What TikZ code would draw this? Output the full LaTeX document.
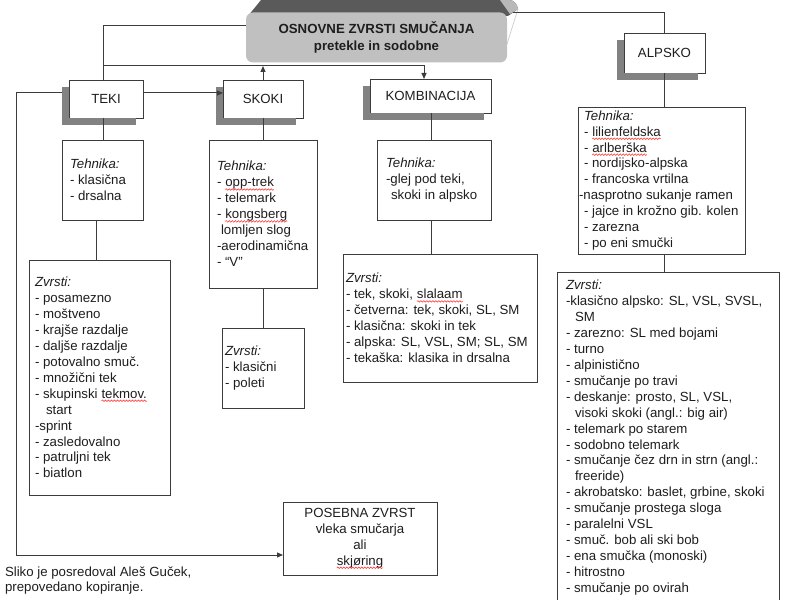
\documentclass[tikz,border=0pt]{standalone}
\usepackage{fontspec}
\setmainfont{Liberation Sans}
\usetikzlibrary{arrows.meta,calc,decorations.pathmorphing}
\definecolor{txtc}{HTML}{1E1E1E}
\definecolor{linec}{HTML}{3C3C3C}
\definecolor{facec}{HTML}{C0C0C0}
\definecolor{bevelc}{HTML}{5A5A5A}
\definecolor{shadc}{HTML}{828282}
\newcommand\rw[1]{\tikz[baseline=(rwword.base)]{\node[inner sep=0,outer sep=0,text=txtc,align=left] (rwword) {#1};
  \draw[red!85, line width=0.5bp, decorate, decoration={snake, amplitude=0.8bp, segment length=3bp}]
    ([yshift=-2.6bp]rwword.base west) -- ([yshift=-2.6bp]rwword.base east);}}
\newcommand\shadowL[1]{\draw[shadc, line width=7bp, line cap=butt, line join=miter]
  ([xshift=-3.5bp,yshift=-7bp]#1.north west) -- ([xshift=-3.5bp,yshift=-3.5bp]#1.south west)
  -- ([xshift=-7bp,yshift=-3.5bp]#1.south east);}
\begin{document}
\begin{tikzpicture}[x=1bp,y=-1bp,
  tbox/.style={draw=linec, line width=0.9bp, fill=white, anchor=north west, inner sep=0, outer sep=0},
  hbox/.style={tbox, text=txtc, font=\fontsize{13.3}{16}\selectfont},
  txt/.style={inner sep=0, outer sep=0, align=left, text=txtc, font=\fontsize{13.3}{16}\selectfont},
  conn/.style={draw=linec, line width=1bp},
  arr/.style={conn, -{Triangle[length=6bp,width=5bp]}}]
\useasboundingbox (0,0) rectangle (792,600);
\fill[white] (0,0) rectangle (792,600);

% header
\fill[bevelc] (261,0) -- (509,0) to[out=0,in=100] (518,9) -- (508,16) -- (248,16) -- cycle;
\fill[gray!55] (500,0) -- (509,0) to[out=0,in=100] (518,9) -- (510,14) -- cycle;
\draw[gray!45, line width=0.6bp] (518,9) -- (507,44);
\node[fill=facec, rounded corners=7bp, minimum width=261bp, minimum height=50bp, inner sep=0,
      align=center, text=txtc, font=\bfseries\fontsize{13.3}{17}\selectfont] (glava) at (376.5,37.5)
      {OSNOVNE ZVRSTI SMUČANJA\\pretekle in sodobne};

% helper coordinates
\coordinate (cT) at (103,0);
\coordinate (cT2) at (96,0);
\coordinate (cK) at (431,0);
\coordinate (cK2) at (424,0);
\coordinate (loopX) at (16,0);
\coordinate (yL) at (0,26);
\coordinate (yR) at (0,13);
\coordinate (yTop) at (0,66);
\coordinate (yRow) at (0,93);
\coordinate (yLoop) at (0,555);

% main category boxes
\node[hbox, minimum width=74bp, minimum height=38bp] (teki) at (69,80) {TEKI};
\node[hbox, minimum width=80bp, minimum height=38bp] (skoki) at (223,80) {SKOKI};
\node[hbox, minimum width=121bp, minimum height=34bp] (komb) at (370,79) {KOMBINACIJA};
\node[hbox, minimum width=81bp, minimum height=40bp] (alp) at (624,33) {ALPSKO};
\shadowL{teki}
\shadowL{skoki}
\shadowL{komb}
\shadowL{alp}

% detail boxes
\node[tbox, minimum width=81bp, minimum height=80bp] (tekiTeh) at (62,140) {};
\node[tbox, minimum width=141bp, minimum height=235bp] (tekiZv) at (29,260) {};
\node[tbox, minimum width=108bp, minimum height=148bp] (skTeh) at (209,140) {};
\node[tbox, minimum width=82bp, minimum height=80bp] (skZv) at (222,328) {};
\node[tbox, minimum width=114bp, minimum height=80bp] (koTeh) at (377,140) {};
\node[tbox, minimum width=194bp, minimum height=128bp] (koZv) at (343,254) {};
\node[tbox, minimum width=167bp, minimum height=147bp] (alTeh) at (578,107) {};
\node[tbox, minimum width=222bp, minimum height=340bp] (alZv) at (557,272) {};
\node[tbox, minimum width=154bp, minimum height=73bp] (pos) at (283,502) {};

% texts
\node[txt, anchor=west] (tekiTehT) at ([xshift=8bp]tekiTeh.west)
  {\textit{Tehnika:}\\- klasična\\- drsalna};
\node[txt, anchor=west] (tekiZvT) at ([xshift=6bp]tekiZv.west)
  {\textit{Zvrsti:}\\- posamezno\\- moštveno\\- krajše razdalje\\- daljše razdalje\\- potovalno smuč.\\- množični tek\\- skupinski \rw{tekmov.}\\\hspace*{11bp}start\\-sprint\\- zasledovalno\\- patruljni tek\\- biatlon};
\node[txt, anchor=west] (skTehT) at ([xshift=8bp]skTeh.west)
  {\textit{Tehnika:}\\- \rw{opp-trek}\\- telemark\\- \rw{kongsberg}\\\hspace*{4bp}lomljen slog\\-aerodinamična\\- “V”};
\node[txt, anchor=west] (skZvT) at ([xshift=3bp]skZv.west)
  {\textit{Zvrsti:}\\- klasični\\- poleti};
\node[txt, anchor=west] (koTehT) at ([xshift=9bp]koTeh.west)
  {\textit{Tehnika:}\\-glej pod teki,\\\hspace*{5bp}skoki in alpsko};
\node[txt, anchor=west] (koZvT) at ([xshift=3bp]koZv.west)
  {\textit{Zvrsti:}\\- tek, skoki, \rw{slalaam}\\- četverna: tek, skoki, SL, SM\\- klasična: skoki in tek\\- alpska: SL, VSL, SM; SL, SM\\- tekaška: klasika in drsalna};
\node[txt, anchor=west] (alTehT) at ([xshift=6bp]alTeh.west)
  {\textit{Tehnika:}\\- \rw{lilienfeldska}\\- \rw{arlberška}\\- nordijsko-alpska\\- francoska vrtilna\\\hspace*{-5bp}-nasprotno sukanje ramen\\- jajce in krožno gib. kolen\\- zarezna\\- po eni smučki};
\node[txt, anchor=north west] (alZvT) at ([xshift=9bp,yshift=-8bp]alZv.north west)
  {\textit{Zvrsti:}\\-klasično alpsko: SL, VSL, SVSL,\\\hspace*{9bp}SM\\- zarezno: SL med bojami\\- turno\\- alpinistično\\- smučanje po travi\\- deskanje: prosto, SL, VSL,\\\hspace*{9bp}visoki skoki (angl.: big air)\\- telemark po starem\\- sodobno telemark\\- smučanje čez drn in strn (angl.:\\\hspace*{9bp}freeride)\\- akrobatsko: baslet, grbine, skoki\\- smučanje prostega sloga\\- paralelni VSL\\- smuč. bob ali ski bob\\- ena smučka (monoski)\\- hitrostno\\- smučanje po ovirah};
\node[txt, align=center] (posT) at (pos.center)
  {POSEBNA ZVRST\\vleka smučarja\\ali\\\rw{skjøring}};
\node[txt, anchor=north west, font=\fontsize{13.3}{15}\selectfont] (credit) at (5,567)
  {Sliko je posredoval Aleš Guček,\\prepovedano kopiranje.};

% connectors
\draw[conn] (glava.west |- yL) -| (teki.north -| cT);
\draw[arr] (cT |- yTop) -| (komb.north -| cK2);
\draw[arr] (skoki.north) -- (skoki.north |- yTop);
\draw[conn] ([xshift=6bp]glava.east |- yR) -| (alp.north);
\draw[arr] (teki.east |- yRow) -- (skoki.west |- yRow);
\draw[conn] (teki.south -| cT) -- (tekiTeh.north -| cT);
\draw[conn] (tekiTeh.south -| cT2) -- (tekiZv.north -| cT2);
\draw[conn] (skoki.south) -- (skTeh.north -| skoki.south);
\draw[conn] (skTeh.south -| skoki.south) -- (skZv.north -| skoki.south);
\draw[conn] (komb.south -| cK) -- (koTeh.north -| cK);
\draw[conn] (koTeh.south -| cK) -- (koZv.north -| cK);
\draw[conn] (alp.south) -- (alTeh.north -| alp.south);
\draw[conn] (alTeh.south -| alp.south) -- (alZv.north -| alp.south);
\draw[arr] ([xshift=-7bp]teki.west |- yRow) -| (loopX |- yLoop) -- (pos.west |- yLoop);
\end{tikzpicture}
\end{document}
